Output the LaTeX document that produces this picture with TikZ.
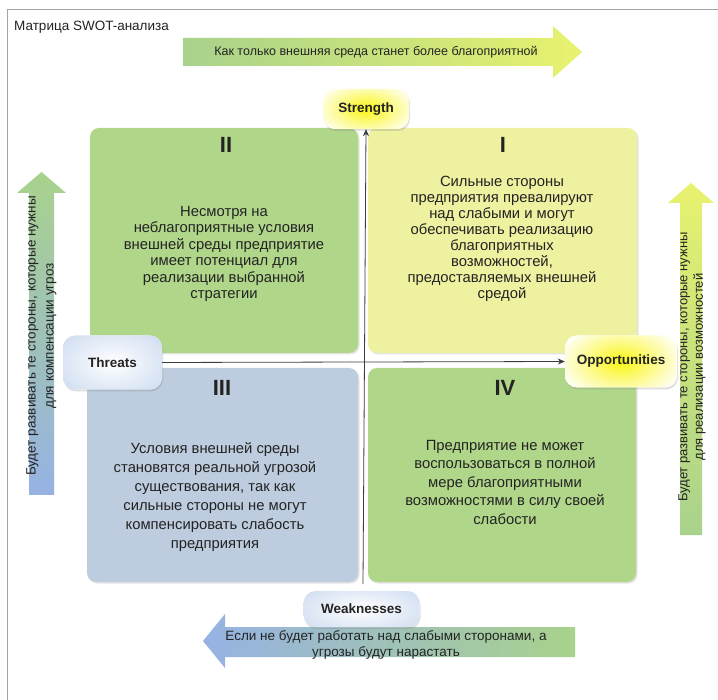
\documentclass[tikz,border=0pt]{standalone}
\usepackage{fontspec}
\setmainfont{Liberation Sans}
\usetikzlibrary{shadows,arrows.meta}
\definecolor{qgreen}{RGB}{176,214,138}
\definecolor{qyellow}{RGB}{238,241,160}
\definecolor{qblue}{RGB}{189,204,222}
\definecolor{agreen}{RGB}{168,210,140}
\definecolor{ayellow}{RGB}{232,242,110}
\definecolor{ablue}{RGB}{150,178,228}
\definecolor{amid}{RGB}{214,226,224}
\definecolor{glowY}{RGB}{250,246,20}
\definecolor{glowB}{RGB}{178,200,232}
\definecolor{framegray}{RGB}{165,165,165}
\definecolor{txt}{RGB}{35,35,35}
\definecolor{axisc}{RGB}{60,60,60}
\begin{document}
\begin{tikzpicture}[x=1pt,y=-1pt,
  quad/.style={rounded corners=9pt, inner sep=0pt, draw=none,
    drop shadow={opacity=0.22,shadow xshift=1.5pt,shadow yshift=-1.5pt}},
  numeral/.style={font=\fontsize{22}{24}\selectfont\bfseries, text=txt, inner sep=0pt},
  qtext/.style={align=center, text=txt, inner sep=0pt, font=\fontsize{14.8}{#1}\selectfont},
  lbl/.style={rounded corners=12pt, fill=white, inner sep=0pt, text=txt,
    font=\fontsize{13.5}{15}\selectfont\bfseries,
    drop shadow={opacity=0.25,shadow xshift=1pt,shadow yshift=-2pt}},
  yglow/.style={path picture={\shade[inner color=glowY,outer color=white]
    (path picture bounding box.center) ellipse (#1);}},
  bglow/.style={path picture={\shade[inner color=white,outer color=glowB]
    (path picture bounding box.center) ellipse (#1);}},
  axisline/.style={draw=axisc, line width=0.8pt, -{Stealth[length=7pt,width=6pt]}},
  arrtext/.style={align=center, text=txt, inner sep=0pt, font=\fontsize{#1}{#1}\selectfont},
]
\useasboundingbox (0,0) rectangle (718,700);
\fill[white] (0,0) rectangle (718,700);
% frame
\draw[framegray, line width=1pt] (7,700) -- (7,10) -- (718,10);
\node[anchor=west, text=txt, inner sep=0pt, font=\fontsize{13.5}{15}\selectfont] (title) at (14,27) {Матрица SWOT-анализа};

% block arrows
\shade[left color=agreen, right color=ayellow]
  (183,38) -- (553,38) -- (553,26) -- (582,52) -- (553,78) -- (553,66) -- (183,66) -- cycle;
\node[arrtext=12.5] (toptext) at (376,52) {Как только внешняя среда станет более благоприятной};

\shade[top color=agreen, bottom color=ablue]
  (29,495) -- (29,193) -- (17,193) -- (41.5,172) -- (66,193) -- (54,193) -- (54,495) -- cycle;
\node[align=center, text=txt, inner sep=0pt, font=\fontsize{13.5}{18}\selectfont, rotate=90] (lefttext) at (41.5,336)
  {Будет развивать те стороны, которые нужны\\для компенсации угроз};

\shade[top color=ayellow, bottom color=agreen]
  (680,535) -- (680,203) -- (668,203) -- (691,183) -- (714,203) -- (702,203) -- (702,535) -- cycle;
\node[align=center, text=txt, inner sep=0pt, font=\fontsize{13}{15.5}\selectfont, rotate=90] (righttext) at (692,367)
  {Будет развивать те стороны, которые нужны\\для реализации возможностей};

\shade[left color=ablue, middle color=amid, right color=agreen]
  (575,627) -- (225,627) -- (225,614) -- (203,641) -- (225,668) -- (225,657) -- (575,657) -- cycle;
\node[align=center, text=txt, inner sep=0pt, font=\fontsize{13.5}{15.5}\selectfont] (bottext) at (386,645)
  {Если не будет работать над слабыми сторонами, а\\угрозы будут нарастать};

% quadrants
\node[quad, fill=qgreen,  minimum width=268pt, minimum height=225pt] (q2) at (224,240.5) {};
\node[quad, fill=qyellow, minimum width=269pt, minimum height=225pt] (q1) at (502.5,240.5) {};
\node[quad, fill=qblue,   minimum width=271pt, minimum height=214pt] (q3) at (222.5,475) {};
\node[quad, fill=qgreen,  minimum width=268pt, minimum height=214pt] (q4) at (502,475) {};

\node[numeral] (n2) at (226,145) {II};
\node[numeral] (n1) at (503,145) {I};
\node[numeral] (n3) at (222,388) {III};
\node[numeral] (n4) at (505,388) {IV};

\node[qtext=16.4] (t2) at (224,254)
  {Несмотря на\\неблагоприятные условия\\внешней среды предприятие\\имеет потенциал для\\реализации выбранной\\стратегии};
\node[qtext=16] (t1) at (502,239)
  {Сильные стороны\\предприятия превалируют\\над слабыми и могут\\обеспечивать реализацию\\благоприятных\\возможностей,\\предоставляемых внешней\\средой};
\node[qtext=19] (t3) at (215,497.5)
  {Условия внешней среды\\становятся реальной угрозой\\существования, так как\\сильные стороны не могут\\компенсировать слабость\\предприятия};
\node[qtext=18.5] (t4) at (505,482)
  {Предприятие не может\\воспользоваться в полной\\мере благоприятными\\возможностями в силу своей\\слабости};

% labels
\node[lbl, minimum width=86pt, minimum height=40pt, yglow={54 and 30}] (strength) at (366,109) {Strength};
\node[lbl, minimum width=99pt, minimum height=54pt, bglow={104 and 64}] (threats) at (112.5,362.5) {Threats};
\node[lbl, minimum width=112pt, minimum height=52pt, yglow={66 and 40}] (opp) at (621,361.5) {Opportunities};
\node[lbl, minimum width=116pt, minimum height=36pt, bglow={120 and 46}] (weak) at (361.5,609) {Weaknesses};

% axes
\coordinate (vbot) at (363,584);
\draw[axisline] (vbot) -- (strength.south);
\draw[axisline] (threats.east) -- (opp.west);
\end{tikzpicture}
\end{document}
